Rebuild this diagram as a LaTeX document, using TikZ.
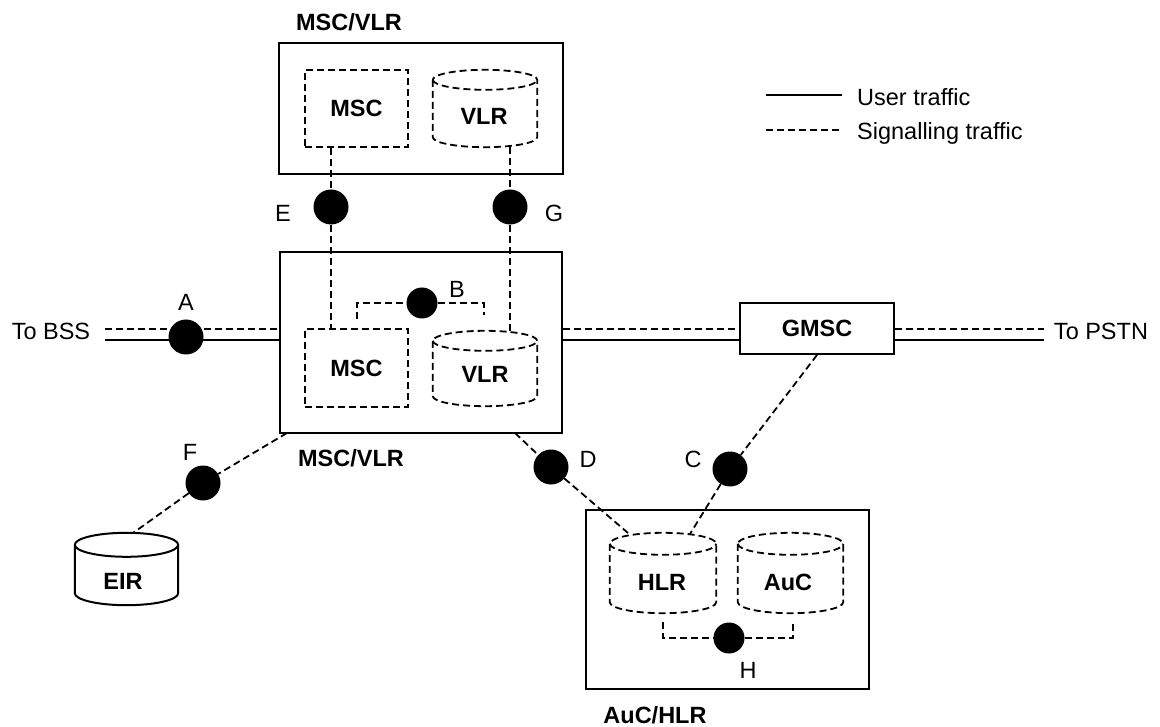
\documentclass[tikz,border=0pt]{standalone}
\usepackage{fontspec}
\setmainfont{Liberation Sans}
\usetikzlibrary{calc}

% cylinder outline drawn over an (invisible) rectangular node
\newcommand\drum[3][]{%
  \draw[#1] let \p1=(#2.north west), \p2=(#2.south east) in
    (\x1,\y1-#3) -- (\x1,\y2+#3)
    arc[start angle=180, end angle=360, x radius={(\x2-\x1)/2}, y radius=#3]
    -- (\x2,\y1-#3)
    arc[start angle=0, end angle=180, x radius={(\x2-\x1)/2}, y radius=#3]
    -- cycle
    (\x1,\y1-#3)
    arc[start angle=180, end angle=360, x radius={(\x2-\x1)/2}, y radius=#3];}

\begin{document}
\begin{tikzpicture}[x=1pt,y=-1pt,
  every node/.style={font=\fontsize{23.5}{28}\selectfont, inner sep=0pt,
                     text height=16.8pt, text depth=0pt},
  lbl/.style={font=\fontsize{23.5}{28}\selectfont\bfseries},
  box/.style={draw, line width=2pt},
  dbox/.style={draw, line width=1.8pt, dash pattern=on 7pt off 4pt},
  hold/.style={draw=none},
  sig/.style={line width=1.8pt, dash pattern=on 7pt off 4pt},
  usr/.style={line width=2pt},
  dot/.style={circle, fill=black, minimum size=35pt, inner sep=0pt},
  sdot/.style={dot, minimum size=31pt},
  drumline/.style={line width=1.8pt, dash pattern=on 7pt off 4pt},
  ]
\useasboundingbox (0,0) rectangle (1160,727);

% ---------- upper MSC/VLR ----------
\node[lbl] (toptitle) at (349,22) {MSC/VLR};
\node[box, minimum width=284pt, minimum height=131pt] (topbox) at (421,108.5) {};
\node[dbox, lbl, minimum width=103pt, minimum height=77pt] (mscT) at (356.5,108.5) {MSC};
\node[hold, minimum width=104pt, minimum height=77pt] (vlrT) at (485,108.5) {};
\drum[drumline]{vlrT}{10pt}
\node[lbl] (vlrTt) at (484,116) {VLR};

% ---------- central MSC/VLR ----------
\node[box, minimum width=282pt, minimum height=181pt] (midbox) at (421,342.5) {};
\node[dbox, lbl, minimum width=103pt, minimum height=78pt] (mscM) at (356.5,368) {MSC};
\node[hold, minimum width=104pt, minimum height=75pt] (vlrM) at (485,368.5) {};
\drum[drumline]{vlrM}{10pt}
\node[lbl] (vlrMt) at (485,374) {VLR};
\node[lbl] (midtitle) at (351,458) {MSC/VLR};

% ---------- GMSC ----------
\node[box, lbl, minimum width=154pt, minimum height=51pt] (gmsc) at (817,328.5) {GMSC};

% ---------- AuC/HLR ----------
\node[box, minimum width=283pt, minimum height=179pt] (auchlr) at (727.5,599.5) {};
\node[hold, minimum width=106pt, minimum height=80pt] (hlr) at (663,573) {};
\drum[drumline]{hlr}{11pt}
\node[lbl] (hlrt) at (662,582) {HLR};
\node[hold, minimum width=105pt, minimum height=80pt] (auc) at (790.5,573) {};
\drum[drumline]{auc}{11pt}
\node[lbl] (auct) at (788,582) {AuC};
\node[lbl] (bottitle) at (655,715) {AuC/HLR};

% ---------- EIR ----------
\node[hold, minimum width=103pt, minimum height=72pt] (eir) at (126.5,569) {};
\drum[line width=2pt]{eir}{12pt}
\node[lbl] (eirt) at (123,581) {EIR};

% ---------- end labels ----------
\node (tobss) at (51,331) {To BSS};
\node (topstn) at (1101,331) {To PSTN};

% ---------- interface points ----------
\node[dot]  (A) at (186,337) {};
\node[sdot] (B) at (422,303) {};
\node[dot]  (C) at (730,469) {};
\node[dot]  (D) at (551,467) {};
\node[dot]  (E) at (331,207) {};
\node[dot]  (F) at (203,483) {};
\node[dot]  (G) at (510,207) {};
\node[sdot] (H) at (729,638) {};

\node (Al) at (186,302) {A};
\node (Bl) at (457,289) {B};
\node (Cl) at (693,459) {C};
\node (Dl) at (588,459) {D};
\node (El) at (283,213) {E};
\node (Fl) at (190,452) {F};
\node (Gl) at (554,213) {G};
\node (Hl) at (748,670) {H};

% ---------- traffic lines ----------
\coordinate (bssU) at (105,340);
\coordinate (bssS) at (105,329);
\coordinate (pstnU) at (1044,340);
\coordinate (pstnS) at (1044,329);

\draw[usr] (bssU) -- (bssU -| midbox.west);
\draw[sig] (bssS) -- (bssS -| midbox.west);
\draw[usr] (bssU -| midbox.east) -- (bssU -| gmsc.west);
\draw[sig] (bssS -| midbox.east) -- (bssS -| gmsc.west);
\draw[usr] (bssU -| gmsc.east) -- (pstnU);
\draw[sig] (bssS -| gmsc.east) -- (pstnS);

% E and G between the two MSC/VLRs
\draw[sig] (mscT.south -| E) -- (E) -- (E |- mscM.north);
\draw[sig] (vlrT.south -| G) -- (G) -- (G |- vlrM.north);

% B between MSC and VLR
\coordinate (b1) at (357,319);
\coordinate (b2) at (484,315);
\draw[sig] (b1) |- (B) -| (b2);

% F to EIR
\coordinate (f0) at (287,433);
\coordinate (f1) at (133,533);
\draw[sig] (f0) -- (F) -- (f1);

% D to HLR
\coordinate (d0) at (515,433);
\coordinate (d1) at (628,533);
\draw[sig] (d0) -- (D) -- (d1);

% C from GMSC to HLR
\coordinate (c1) at (690,534);
\draw[sig] (gmsc.south) -- (C) -- (c1);

% H between HLR and AuC
\coordinate (h1) at (663,622);
\coordinate (h2) at (793,622);
\draw[sig] (h1) |- (H) -| (h2);

% ---------- legend ----------
\coordinate (lu0) at (766,95);
\coordinate (lu1) at (842,95);
\coordinate (ls0) at (766,130);
\coordinate (ls1) at (842,130);
\draw[usr] (lu0) -- (lu1);
\draw[sig] (ls0) -- (ls1);
\node[anchor=west] (legU) at (857,97) {User traffic};
\node[anchor=west] (legS) at (857,131) {Signalling traffic};
\end{tikzpicture}
\end{document}
